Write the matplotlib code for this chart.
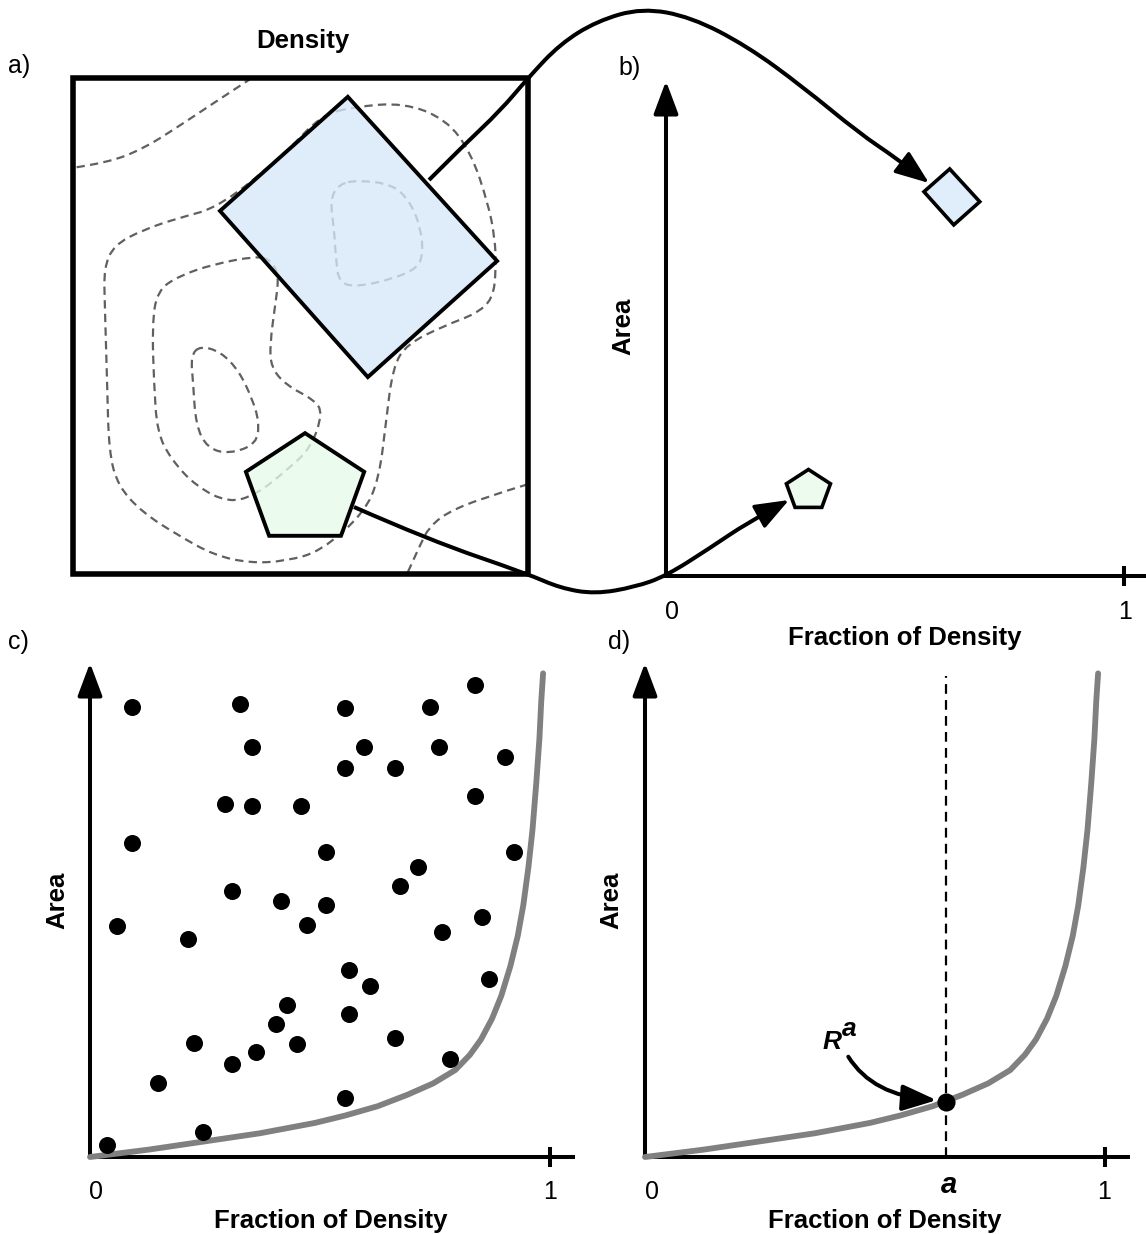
import numpy as np
import matplotlib
matplotlib.use("Agg")
import matplotlib.pyplot as plt
from matplotlib.path import Path
from matplotlib.patches import PathPatch, Polygon, FancyArrowPatch, Rectangle

plt.rcParams['font.family'] = ['Liberation Sans', 'DejaVu Sans']
plt.rcParams['lines.scale_dashes'] = False

# ---------------- data ----------------
# panel a : two regions drawn on the density map (unit-box coordinates)
region_rect = [(0.604, 0.962), (0.932, 0.631), (0.648, 0.397), (0.323, 0.732)]
region_pent = [(0.510, 0.284), (0.640, 0.206), (0.589, 0.077), (0.431, 0.077), (0.380, 0.206)]

# density contour lines (unit-box coordinates)
contour_1 = [(0.393, 1.0), (0.310, 0.950), (0.233, 0.903), (0.154, 0.857), (0.075, 0.829), (0.0, 0.819)]
contour_2 = [(0.618, 0.942), (0.727, 0.950), (0.820, 0.917), (0.875, 0.849), (0.912, 0.748),
             (0.927, 0.679), (0.930, 0.617), (0.923, 0.554), (0.884, 0.524), (0.820, 0.502),
             (0.734, 0.464), (0.703, 0.417), (0.688, 0.308), (0.673, 0.194), (0.640, 0.123),
             (0.545, 0.046), (0.468, 0.026), (0.389, 0.022), (0.310, 0.038), (0.233, 0.077),
             (0.154, 0.123), (0.099, 0.177), (0.079, 0.246), (0.075, 0.385), (0.070, 0.540),
             (0.068, 0.617), (0.090, 0.663), (0.154, 0.694), (0.233, 0.718), (0.323, 0.740),
             (0.468, 0.849), (0.545, 0.925)]
contour_3 = [(0.404, 0.641), (0.310, 0.625), (0.233, 0.601), (0.185, 0.571), (0.174, 0.502),
             (0.178, 0.385), (0.185, 0.286), (0.215, 0.232), (0.270, 0.177), (0.343, 0.143),
             (0.404, 0.161), (0.468, 0.208), (0.523, 0.254), (0.549, 0.325), (0.530, 0.351),
             (0.468, 0.381), (0.435, 0.417), (0.433, 0.464), (0.444, 0.540), (0.453, 0.601),
             (0.435, 0.633)]
contour_4 = [(0.279, 0.460), (0.325, 0.448), (0.365, 0.409), (0.393, 0.355), (0.409, 0.308),
             (0.404, 0.262), (0.343, 0.242), (0.295, 0.254), (0.270, 0.300), (0.264, 0.385),
             (0.259, 0.440)]
contour_5 = [(0.624, 0.794), (0.703, 0.786), (0.743, 0.748), (0.765, 0.694), (0.769, 0.647),
             (0.758, 0.617), (0.703, 0.595), (0.624, 0.579), (0.585, 0.587), (0.578, 0.633),
             (0.574, 0.694), (0.565, 0.756), (0.585, 0.786)]
contour_6 = [(1.0, 0.181), (0.899, 0.153), (0.820, 0.123), (0.782, 0.093), (0.765, 0.063), (0.734, 0.0)]

# panel b : the two regions as (fraction of density, area)
region_frac = [0.624, 0.311]
region_area = [0.766, 0.173]
region_scale = [0.20, 0.37]

# panel c : sampled regions
sample_frac = [0.092, 0.325, 0.555, 0.739, 0.836, 0.353, 0.595, 0.758, 0.902, 0.555, 0.662,
               0.293, 0.353, 0.459, 0.836, 0.092, 0.512, 0.921, 0.714, 0.674, 0.309, 0.415,
               0.512, 0.471, 0.852, 0.059, 0.213, 0.766, 0.563, 0.609, 0.868, 0.429, 0.563,
               0.405, 0.226, 0.451, 0.361, 0.309, 0.662, 0.783, 0.147, 0.555, 0.245, 0.038]
sample_area = [0.910, 0.916, 0.908, 0.910, 0.956, 0.830, 0.830, 0.830, 0.810, 0.788, 0.788,
               0.714, 0.710, 0.710, 0.730, 0.636, 0.617, 0.617, 0.588, 0.548, 0.539, 0.519,
               0.510, 0.470, 0.485, 0.467, 0.441, 0.456, 0.378, 0.347, 0.360, 0.307, 0.290,
               0.270, 0.230, 0.228, 0.212, 0.188, 0.241, 0.199, 0.149, 0.119, 0.051, 0.025]

# minimal-area curve (panels c and d)
curve_frac = [0.0, 0.128, 0.245, 0.369, 0.489, 0.555, 0.626, 0.690, 0.746, 0.794, 0.826,
              0.850, 0.874, 0.894, 0.914, 0.930, 0.942, 0.953, 0.962, 0.970, 0.977, 0.981, 0.985]
curve_area = [0.0, 0.015, 0.031, 0.048, 0.069, 0.084, 0.103, 0.126, 0.149, 0.176, 0.207,
              0.238, 0.280, 0.326, 0.387, 0.448, 0.510, 0.586, 0.663, 0.755, 0.847, 0.923, 0.979]

# panel d : highlighted level
alpha_level = 0.654
alpha_area = 0.112

x_ticks = [0, 1]
x_label = "Fraction of Density"
y_label = "Area"

# ---------------- figure ----------------
W, H = 1146, 1234
fig = plt.figure(figsize=(W / 100, H / 100), dpi=100)


def rect(x0, ytop, x1, ybot):
    return [x0 / W, 1 - ybot / H, (x1 - x0) / W, (ybot - ytop) / H]


def smooth_path(pts, closed=False):
    P = np.asarray(pts, float)
    if closed:
        M = (P + np.roll(P, -1, axis=0)) / 2
        verts = [M[-1]]
        codes = [Path.MOVETO]
        for i in range(len(P)):
            verts += [P[i], M[i]]
            codes += [Path.CURVE3, Path.CURVE3]
    else:
        n = len(P)
        verts = [P[0]]
        codes = [Path.MOVETO]
        for i in range(1, n - 1):
            end = (P[i] + P[i + 1]) / 2 if i < n - 2 else P[-1]
            verts += [P[i], end]
            codes += [Path.CURVE3, Path.CURVE3]
    return Path(np.array(verts), codes)


AXLW = 2.9
HEAD = '-|>,head_length=20,head_width=7.5'
HEAD2 = '-|>,head_length=21,head_width=8'

# ---------- panel a ----------
axa = fig.add_axes(rect(73, 78, 528, 574))
axa.set_xlim(0, 1)
axa.set_ylim(0, 1)
axa.axis('off')
cdash = (0, (6.0, 3.8))
for pts, closed in [(contour_1, False), (contour_2, True), (contour_3, True),
                    (contour_4, True), (contour_5, True), (contour_6, False)]:
    axa.add_patch(PathPatch(smooth_path(pts, closed), fill=False, ec='#606060',
                            lw=1.6, ls=cdash, clip_on=False, zorder=1))
axa.add_patch(Polygon(region_rect, closed=True, fc='#d6e8fb', alpha=0.78, ec='none', zorder=2))
axa.add_patch(Polygon(region_rect, closed=True, fill=False, ec='black', lw=2.8,
                      joinstyle='miter', zorder=3))
axa.add_patch(Polygon(region_pent, closed=True, fc='#e6fae8', alpha=0.78, ec='none', zorder=2))
axa.add_patch(Polygon(region_pent, closed=True, fill=False, ec='black', lw=2.8,
                      joinstyle='miter', zorder=3))
axa.add_patch(Rectangle((0, 0), 1, 1, fill=False, ec='black', lw=4.0, joinstyle='miter',
                        clip_on=False, zorder=4))


def make_axes(x0, x1, ytop, ybot, xend):
    ax = fig.add_axes(rect(x0, ytop, x1, ybot))
    ax.set_xlim(0, 1)
    ax.set_ylim(0, 1)
    ax.axis('off')
    ux = (x1 - x0)
    uy = (ybot - ytop)
    ax.add_patch(FancyArrowPatch((0, 0), (0, 1), arrowstyle=HEAD, mutation_scale=1,
                                 lw=AXLW, color='black', shrinkA=0, shrinkB=0,
                                 clip_on=False, zorder=5))
    ax.plot([-2.0 / ux, (xend - x0) / ux], [0, 0], color='black', lw=AXLW,
            solid_capstyle='butt', clip_on=False, zorder=5)
    t = 10.0 / uy
    ax.plot([x_ticks[1], x_ticks[1]], [-t, t], color='black', lw=AXLW,
            solid_capstyle='butt', clip_on=False, zorder=5)
    return ax


# ---------- panel b ----------
axb = make_axes(666, 1124, 81, 576, 1146)
ca = np.mean(np.array(region_rect), axis=0)
cp = np.mean(np.array(region_pent), axis=0)
for poly, c, fc, k in [(region_rect, ca, '#e0eefc', 0), (region_pent, cp, '#ecfbee', 1)]:
    small = np.array([region_frac[k], region_area[k]]) + region_scale[k] * (np.array(poly) - c)
    axb.add_patch(Polygon(small, closed=True, fc=fc, ec='black', lw=2.6,
                          joinstyle='miter', clip_on=False, zorder=6))

# ---------- panel c ----------
axc = make_axes(90, 550, 663, 1157, 575)
axc.plot(curve_frac, curve_area, color='#808080', lw=4.2, solid_capstyle='round',
         solid_joinstyle='round', clip_on=False, zorder=6)
axc.scatter(sample_frac, sample_area, s=150, color='black', lw=0, clip_on=False, zorder=7)

# ---------- panel d ----------
axd = make_axes(645, 1105, 663, 1157, 1130)
axd.plot([alpha_level, alpha_level], [0, 0.974], color='black', lw=1.6,
         ls=(0, (7.0, 4.5)), clip_on=False, zorder=1)
axd.plot(curve_frac, curve_area, color='#808080', lw=4.2, solid_capstyle='round',
         solid_joinstyle='round', clip_on=False, zorder=6)
axd.scatter([alpha_level], [alpha_area], s=170, color='black', lw=0, clip_on=False, zorder=7)
axd.add_patch(FancyArrowPatch((0.442, 0.203), (alpha_level - 0.020, alpha_area + 0.003),
                              connectionstyle='angle3,angleA=-58,angleB=-4',
                              arrowstyle=HEAD2, mutation_scale=1,
                              lw=AXLW, color='black', shrinkA=0, shrinkB=0,
                              clip_on=False, zorder=5))

# ---------- overlay (connectors and labels, pixel coordinates) ----------
ov = fig.add_axes([0, 0, 1, 1], zorder=20)
ov.set_xlim(0, W)
ov.set_ylim(H, 0)
ov.axis('off')
ov.patch.set_alpha(0)

top_link = [(429, 180), (464, 145), (500, 111), (528, 78), (560, 44), (597, 21), (642, 8),
            (691, 17), (747, 46), (803, 87), (859, 133), (896, 158), (929, 183)]
bot_link = [(354, 507), (429, 540), (528, 574), (560, 588), (595, 594), (635, 587),
            (666, 576), (710, 548), (747, 523), (789, 500)]
for link in (top_link, bot_link):
    P = np.array(link, float)
    u = P[-1] - P[-2]
    u = u / np.hypot(*u)
    P2 = P.copy()
    P2[-1] = P[-1] - u * 12
    ov.add_patch(PathPatch(smooth_path(P2), fill=False, ec='black', lw=2.9,
                           capstyle='butt'))
    ov.add_patch(FancyArrowPatch(tuple(P[-1] - u * 26), tuple(P[-1]), arrowstyle=HEAD2,
                                 mutation_scale=1, lw=2.4, color='black',
                                 shrinkA=0, shrinkB=0))

lab = dict(fontsize=18, color='black')
bold = dict(fontsize=18.5, fontweight='bold', color='black')
ov.text(8, 73, "a)", ha='left', va='baseline', **lab)
ov.text(618, 75, "b)", ha='left', va='baseline', **lab)
ov.text(8, 649, "c)", ha='left', va='baseline', **lab)
ov.text(608, 649, "d)", ha='left', va='baseline', **lab)
ov.text(303, 48, "Density", ha='center', va='baseline', **bold)

# panel b labels
ov.text(672, 619, str(x_ticks[0]), ha='center', va='baseline', **lab)
ov.text(1125, 619, str(x_ticks[1]), ha='center', va='baseline', **lab)
ov.text(905, 645, x_label, ha='center', va='baseline', **bold)
ov.text(630, 326, y_label, ha='center', va='baseline', rotation=90, rotation_mode='anchor', **bold)

# panel c labels
ov.text(96, 1199, str(x_ticks[0]), ha='center', va='baseline', **lab)
ov.text(550, 1199, str(x_ticks[1]), ha='center', va='baseline', **lab)
ov.text(331, 1228, x_label, ha='center', va='baseline', **bold)
ov.text(64, 900, y_label, ha='center', va='baseline', rotation=90, rotation_mode='anchor', **bold)

# panel d labels
ov.text(652, 1199, str(x_ticks[0]), ha='center', va='baseline', **lab)
ov.text(1104, 1199, str(x_ticks[1]), ha='center', va='baseline', **lab)
ov.text(949, 1193, "a", ha='center', va='baseline', fontsize=21, fontweight='bold',
        style='italic')
ov.text(885, 1228, x_label, ha='center', va='baseline', **bold)
ov.text(618, 900, y_label, ha='center', va='baseline', rotation=90, rotation_mode='anchor', **bold)
ov.text(842, 1049, "R", ha='right', va='baseline', fontsize=19, fontweight='bold', style='italic')
ov.text(842, 1036, "a", ha='left', va='baseline', fontsize=19, fontweight='bold', style='italic')

fig.savefig("out.png", dpi=100)
